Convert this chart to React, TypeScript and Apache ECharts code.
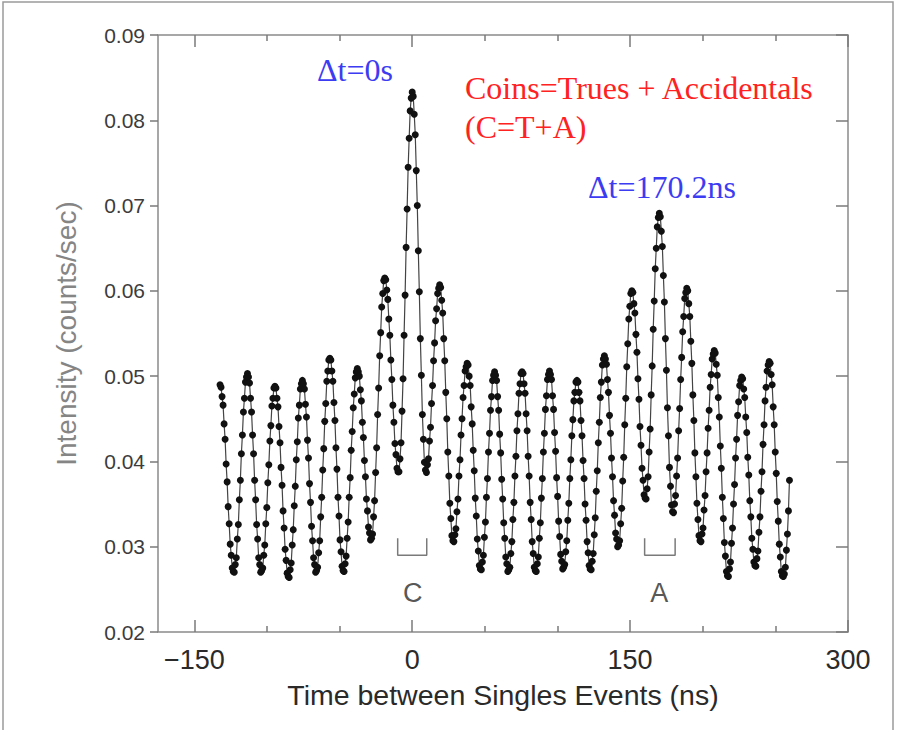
import React, { useEffect, useRef } from "react";
import * as echarts from "echarts";

// Time grid of the measured points (ns)
const T_START = -132.3;
const T_STEP = 0.7;

// Intensity (counts/sec), one line per RF period (peak to peak)
const intensityA = [
  0.0490, 0.0487, 0.0476, 0.0466, 0.0444, 0.0426, 0.0397, 0.0376, 0.0347, 0.0327, 0.0303, 0.0290, 0.0275, 0.0271, 0.0270, 0.0279, 0.0287, 0.0309, 0.0326, 0.0355, 0.0378, 0.0409, 0.0431, 0.0458, 0.0474, 0.0493, 0.0499,
  0.0503, 0.0499, 0.0492, 0.0474, 0.0458, 0.0431, 0.0409, 0.0378, 0.0355, 0.0326, 0.0309, 0.0287, 0.0279, 0.0270, 0.0272, 0.0275, 0.0290, 0.0302, 0.0327, 0.0346, 0.0375, 0.0396, 0.0424, 0.0442, 0.0465, 0.0474, 0.0486,
  0.0488, 0.0486, 0.0474, 0.0464, 0.0441, 0.0422, 0.0393, 0.0372, 0.0342, 0.0322, 0.0297, 0.0284, 0.0269, 0.0265, 0.0264, 0.0273, 0.0281, 0.0302, 0.0320, 0.0348, 0.0371, 0.0402, 0.0423, 0.0451, 0.0466, 0.0485, 0.0491,
  0.0495, 0.0491, 0.0485, 0.0467, 0.0452, 0.0425, 0.0404, 0.0374, 0.0352, 0.0324, 0.0307, 0.0287, 0.0279, 0.0270, 0.0272, 0.0276, 0.0293, 0.0307, 0.0335, 0.0358, 0.0390, 0.0415, 0.0447, 0.0468, 0.0494, 0.0506, 0.0519,
  0.0521, 0.0519, 0.0506, 0.0494, 0.0469, 0.0448, 0.0416, 0.0391, 0.0358, 0.0336, 0.0308, 0.0294, 0.0277, 0.0272, 0.0271, 0.0280, 0.0289, 0.0310, 0.0329, 0.0358, 0.0381, 0.0413, 0.0435, 0.0463, 0.0479, 0.0498, 0.0505,
];
const intensityB = [
  0.0509, 0.0505, 0.0500, 0.0484, 0.0471, 0.0446, 0.0428, 0.0401, 0.0382, 0.0356, 0.0342, 0.0323, 0.0316, 0.0308, 0.0310, 0.0315, 0.0335, 0.0354, 0.0387, 0.0416, 0.0455, 0.0486, 0.0524, 0.0551, 0.0581, 0.0597, 0.0612,
  0.0615, 0.0613, 0.0601, 0.0590, 0.0567, 0.0548, 0.0519, 0.0496, 0.0466, 0.0446, 0.0421, 0.0408, 0.0392, 0.0388, 0.0388, 0.0403, 0.0422, 0.0459, 0.0497, 0.0548, 0.0595, 0.0651, 0.0696, 0.0745, 0.0779, 0.0811, 0.0826,
  0.0833, 0.0828, 0.0807, 0.0783, 0.0741, 0.0700, 0.0647, 0.0599, 0.0544, 0.0501, 0.0455, 0.0426, 0.0399, 0.0390, 0.0387, 0.0396, 0.0403, 0.0424, 0.0440, 0.0468, 0.0489, 0.0518, 0.0539, 0.0565, 0.0579, 0.0597, 0.0603,
  0.0607, 0.0604, 0.0589, 0.0574, 0.0544, 0.0518, 0.0481, 0.0450, 0.0411, 0.0383, 0.0351, 0.0333, 0.0313, 0.0307, 0.0306, 0.0314, 0.0321, 0.0341, 0.0356, 0.0383, 0.0402, 0.0431, 0.0450, 0.0475, 0.0489, 0.0506, 0.0511,
];
const intensityC = [
  0.0515, 0.0513, 0.0500, 0.0489, 0.0464, 0.0444, 0.0413, 0.0389, 0.0357, 0.0336, 0.0309, 0.0295, 0.0278, 0.0274, 0.0273, 0.0282, 0.0290, 0.0311, 0.0329, 0.0358, 0.0380, 0.0411, 0.0433, 0.0460, 0.0476, 0.0495, 0.0501,
  0.0505, 0.0501, 0.0495, 0.0476, 0.0460, 0.0432, 0.0410, 0.0379, 0.0356, 0.0328, 0.0310, 0.0288, 0.0280, 0.0271, 0.0273, 0.0276, 0.0292, 0.0306, 0.0332, 0.0352, 0.0383, 0.0406, 0.0436, 0.0456, 0.0480, 0.0491, 0.0503,
  0.0505, 0.0503, 0.0491, 0.0480, 0.0456, 0.0436, 0.0406, 0.0383, 0.0352, 0.0332, 0.0306, 0.0292, 0.0276, 0.0272, 0.0271, 0.0280, 0.0288, 0.0310, 0.0328, 0.0357, 0.0380, 0.0411, 0.0433, 0.0461, 0.0477, 0.0496, 0.0502,
  0.0506, 0.0502, 0.0496, 0.0477, 0.0461, 0.0434, 0.0412, 0.0381, 0.0359, 0.0330, 0.0312, 0.0291, 0.0283, 0.0274, 0.0276, 0.0279, 0.0294, 0.0307, 0.0331, 0.0351, 0.0380, 0.0402, 0.0430, 0.0449, 0.0471, 0.0481, 0.0493,
  0.0495, 0.0493, 0.0481, 0.0471, 0.0448, 0.0430, 0.0401, 0.0380, 0.0350, 0.0331, 0.0306, 0.0293, 0.0278, 0.0274, 0.0273, 0.0283, 0.0292, 0.0314, 0.0334, 0.0365, 0.0389, 0.0422, 0.0446, 0.0475, 0.0493, 0.0513, 0.0520,
];
const intensityD = [
  0.0524, 0.0520, 0.0514, 0.0496, 0.0481, 0.0454, 0.0433, 0.0404, 0.0382, 0.0354, 0.0337, 0.0316, 0.0309, 0.0300, 0.0302, 0.0307, 0.0327, 0.0345, 0.0377, 0.0405, 0.0443, 0.0474, 0.0511, 0.0538, 0.0567, 0.0582, 0.0597,
  0.0600, 0.0598, 0.0585, 0.0574, 0.0549, 0.0528, 0.0497, 0.0473, 0.0441, 0.0419, 0.0392, 0.0378, 0.0361, 0.0357, 0.0356, 0.0368, 0.0382, 0.0411, 0.0438, 0.0478, 0.0512, 0.0555, 0.0588, 0.0626, 0.0650, 0.0675, 0.0686,
  0.0691, 0.0687, 0.0670, 0.0652, 0.0618, 0.0587, 0.0544, 0.0507, 0.0463, 0.0430, 0.0393, 0.0371, 0.0349, 0.0341, 0.0340, 0.0350, 0.0360, 0.0383, 0.0404, 0.0436, 0.0462, 0.0496, 0.0522, 0.0552, 0.0570, 0.0591, 0.0598,
  0.0603, 0.0600, 0.0585, 0.0570, 0.0541, 0.0515, 0.0478, 0.0448, 0.0410, 0.0382, 0.0351, 0.0332, 0.0313, 0.0307, 0.0306, 0.0315, 0.0322, 0.0343, 0.0360, 0.0388, 0.0410, 0.0439, 0.0460, 0.0487, 0.0502, 0.0520, 0.0526,
];
const intensityE = [
  0.0530, 0.0527, 0.0514, 0.0501, 0.0475, 0.0452, 0.0418, 0.0392, 0.0358, 0.0333, 0.0305, 0.0289, 0.0271, 0.0266, 0.0265, 0.0274, 0.0282, 0.0304, 0.0322, 0.0350, 0.0373, 0.0404, 0.0426, 0.0454, 0.0470, 0.0489, 0.0495,
  0.0499, 0.0497, 0.0485, 0.0475, 0.0452, 0.0434, 0.0405, 0.0384, 0.0354, 0.0335, 0.0310, 0.0297, 0.0282, 0.0278, 0.0277, 0.0286, 0.0295, 0.0317, 0.0335, 0.0365, 0.0388, 0.0420, 0.0443, 0.0471, 0.0487, 0.0506, 0.0513,
  0.0517, 0.0515, 0.0502, 0.0490, 0.0464, 0.0443, 0.0411, 0.0386, 0.0353, 0.0330, 0.0303, 0.0288, 0.0271, 0.0266, 0.0265, 0.0268, 0.0276, 0.0296, 0.0315, 0.0342, 0.0378,
];

const xMajorTicks = [-150, 0, 150, 300];
const xMinorTicks = [-100, -50, 50, 100, 200, 250];

// Coincidence windows (ns) and their labels
const windowC = [-10, 10];
const windowA = [160, 181];
const windowTop = 0.031;
const windowBottom = 0.029;
const windowLabels = [
  { name: "C", t: 0.3 },
  { name: "A", t: 170 },
];
const windowLabelY = 0.0246;

const SANS = '"Liberation Sans", Arial, sans-serif';
const SERIF = '"Liberation Serif", "Times New Roman", serif';

export default function App() {
  const ref = useRef<HTMLDivElement>(null);

  useEffect(() => {
    document.body.style.margin = "0";
    if (!ref.current) return;
    const chart = echarts.init(ref.current, undefined, { renderer: "svg" });

    const intensity = [...intensityA, ...intensityB, ...intensityC, ...intensityD, ...intensityE];
    const points = intensity.map((v, i) => [+(T_START + i * T_STEP).toFixed(2), v]);

    const bracket = (w: number[]) => [
      [w[0], windowTop],
      [w[0], windowBottom],
      [w[1], windowBottom],
      [w[1], windowTop],
    ];

    const tickColor = "#7a7a7a";
    const baseX: any = {
      type: "value",
      min: -175,
      max: 300,
      splitLine: { show: false },
      axisLine: { show: false, onZero: false },
    };

    chart.setOption({
      animation: false,
      backgroundColor: "#ffffff",
      grid: {
        left: 158,
        right: 49,
        top: 35,
        bottom: 98,
        show: true,
        borderColor: "#8a8a8a",
        borderWidth: 1.5,
        backgroundColor: "transparent",
      },
      xAxis: [
        {
          ...baseX,
          position: "bottom",
          axisTick: {
            show: true,
            inside: true,
            length: 12,
            customValues: xMajorTicks,
            lineStyle: { color: tickColor, width: 1.5 },
          },
          axisLabel: {
            show: true,
            customValues: xMajorTicks,
            formatter: (v: number) => (v < 0 ? "\u2212" + Math.abs(v) : String(v)),
            fontFamily: SANS,
            fontSize: 27,
            color: "#2a2a2a",
            margin: 14,
          },
          name: "Time between Singles Events (ns)",
          nameLocation: "middle",
          nameGap: 48,
          nameTextStyle: { fontFamily: SANS, fontSize: 28.5, color: "#2a2a2a" },
        },
        {
          ...baseX,
          position: "bottom",
          axisTick: {
            show: true,
            inside: true,
            length: 6,
            customValues: xMinorTicks,
            lineStyle: { color: tickColor, width: 1.5 },
          },
          axisLabel: { show: false },
        },
        {
          ...baseX,
          position: "top",
          axisTick: {
            show: true,
            inside: true,
            length: 12,
            customValues: xMajorTicks,
            lineStyle: { color: tickColor, width: 1.5 },
          },
          axisLabel: { show: false },
        },
        {
          ...baseX,
          position: "top",
          axisTick: {
            show: true,
            inside: true,
            length: 6,
            customValues: xMinorTicks,
            lineStyle: { color: tickColor, width: 1.5 },
          },
          axisLabel: { show: false },
        },
      ],
      yAxis: [
        {
          type: "value",
          min: 0.02,
          max: 0.09,
          interval: 0.01,
          position: "left",
          axisLine: { show: false, onZero: false },
          splitLine: { show: false },
          axisTick: { show: true, inside: false, length: 8, lineStyle: { color: tickColor, width: 1.5 } },
          axisLabel: {
            formatter: (v: number) => v.toFixed(2),
            fontFamily: SANS,
            fontSize: 21,
            color: "#3c3c3c",
            margin: 13,
          },
          name: "Intensity (counts/sec)",
          nameLocation: "middle",
          nameGap: 78,
          nameRotate: 90,
          nameTextStyle: { fontFamily: SANS, fontSize: 28, color: "#858585" },
        },
        {
          type: "value",
          min: 0.02,
          max: 0.09,
          interval: 0.01,
          position: "right",
          axisLine: { show: false, onZero: false },
          splitLine: { show: false },
          axisTick: { show: true, inside: true, length: 12, lineStyle: { color: tickColor, width: 1.5 } },
          axisLabel: { show: false },
        },
      ],
      series: [
        {
          type: "line",
          data: points,
          symbol: "circle",
          symbolSize: 7,
          showAllSymbol: true,
          itemStyle: { color: "#111111" },
          lineStyle: { color: "#444444", width: 1.2 },
          z: 3,
        },
        {
          type: "line",
          data: bracket(windowC),
          symbol: "none",
          lineStyle: { color: "#7a7a7a", width: 1.5 },
        },
        {
          type: "line",
          data: bracket(windowA),
          symbol: "none",
          lineStyle: { color: "#7a7a7a", width: 1.5 },
        },
        {
          type: "scatter",
          symbolSize: 0,
          data: windowLabels.map((d) => ({ value: [d.t, windowLabelY], name: d.name })),
          label: {
            show: true,
            position: "inside",
            formatter: (p: any) => p.name,
            fontFamily: SANS,
            fontSize: 27,
            color: "#2a2a2a",
          },
        },
      ],
      graphic: [
        {
          type: "rect",
          shape: { x: 3, y: 2, width: 890, height: 760 },
          style: { fill: "none", stroke: "#9a9a9a", lineWidth: 1.5 },
          silent: true,
        },
        {
          type: "text",
          left: 317,
          top: 54,
          style: { text: "\u0394t=0s", fill: "#3c3cf2", font: `32px ${SERIF}` },
        },
        {
          type: "text",
          left: 465,
          top: 72,
          style: { text: "Coins=Trues + Accidentals", fill: "#ff2222", font: `32px ${SERIF}` },
        },
        {
          type: "text",
          left: 465,
          top: 111,
          style: { text: "(C=T+A)", fill: "#ff2222", font: `32px ${SERIF}` },
        },
        {
          type: "text",
          left: 588,
          top: 171,
          style: { text: "\u0394t=170.2ns", fill: "#3c3cf2", font: `32px ${SERIF}` },
        },
      ],
    });

    return () => chart.dispose();
  }, []);

  return (
    <div
      ref={ref}
      style={{ position: "absolute", left: 0, top: 0, width: 897, height: 730, background: "#fff" }}
    />
  );
}
